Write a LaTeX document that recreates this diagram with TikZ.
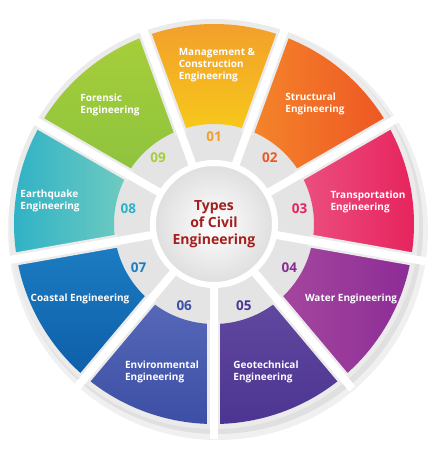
\documentclass[tikz,border=0pt]{standalone}
\usepackage{fontspec}
\setmainfont{Open Sans}
\usetikzlibrary{
    positioning, % posicionamento relativo
    shadings
}

% --- Cores dos setores ---
\definecolor{hubgray}{HTML}{E4E4E4}
\definecolor{rimgray}{HTML}{EBEBEB}
\definecolor{civred}{HTML}{A3201E}
\definecolor{mgmtA}{HTML}{F29E2C}\definecolor{mgmtB}{HTML}{F7C81A}
\definecolor{strcA}{HTML}{F4862A}\definecolor{strcB}{HTML}{EE5624}
\definecolor{trnsA}{HTML}{EC4F80}\definecolor{trnsB}{HTML}{E6225C}
\definecolor{watrA}{HTML}{A5479F}\definecolor{watrB}{HTML}{8C2C96}
\definecolor{geotA}{HTML}{61489F}\definecolor{geotB}{HTML}{4C3592}
\definecolor{envrA}{HTML}{5768B8}\definecolor{envrB}{HTML}{3C4FA4}
\definecolor{coasA}{HTML}{1C7DC2}\definecolor{coasB}{HTML}{0D5EA8}
\definecolor{eartA}{HTML}{2DB1C6}\definecolor{eartB}{HTML}{70CBC0}
\definecolor{foreA}{HTML}{A7CE3A}\definecolor{foreB}{HTML}{8DC33E}

\begin{document}
\begin{tikzpicture}[x=1pt, y=1pt]

    % --- Definição de Estilos ---
    \tikzset{
        % Rótulo branco de cada setor
        seg_label/.style={
            text=white,
            align=left,
            inner sep=0pt,
            font=\bfseries\fontsize{10}{12}\selectfont
        },
        % Número de cada setor
        seg_number/.style={
            inner sep=0pt,
            font=\bfseries\fontsize{13.5}{13.5}\selectfont
        },
        % Borda cinza e vão branco entre setores
        gap_edge/.style={draw=rimgray, line width=13pt},
        gap_line/.style={draw=white, line width=8pt}
    }

    \useasboundingbox (-214,-226) rectangle (218,224);

    % --- Sombra e disco base ---
    \fill[black!6] (4,-6) circle (210);
    \fill[black!12] (3,-4) circle (206);
    \fill[rimgray] (0,0) circle (205);
    \fill[hubgray] (0,0) circle (100);

    % --- Setores coloridos ---
    \shade[top color=mgmtA, bottom color=mgmtB]
        (70:100) arc[start angle=70, end angle=110, radius=100] -- (110:200) arc[start angle=110, end angle=70, radius=200] -- cycle;
    \shade[left color=strcA, right color=strcB]
        (30:100) arc[start angle=30, end angle=70, radius=100] -- (70:200) arc[start angle=70, end angle=30, radius=200] -- cycle;
    \shade[left color=trnsA, right color=trnsB]
        (-10:100) arc[start angle=-10, end angle=30, radius=100] -- (30:200) arc[start angle=30, end angle=-10, radius=200] -- cycle;
    \shade[left color=watrA, right color=watrB]
        (-50:100) arc[start angle=-50, end angle=-10, radius=100] -- (-10:200) arc[start angle=-10, end angle=-50, radius=200] -- cycle;
    \shade[top color=geotA, bottom color=geotB]
        (-90:100) arc[start angle=-90, end angle=-50, radius=100] -- (-50:200) arc[start angle=-50, end angle=-90, radius=200] -- cycle;
    \shade[top color=envrA, bottom color=envrB]
        (-130:100) arc[start angle=-130, end angle=-90, radius=100] -- (-90:200) arc[start angle=-90, end angle=-130, radius=200] -- cycle;
    \shade[top color=coasA, bottom color=coasB]
        (-170:100) arc[start angle=-170, end angle=-130, radius=100] -- (-130:200) arc[start angle=-130, end angle=-170, radius=200] -- cycle;
    \shade[left color=eartA, right color=eartB]
        (150:100) arc[start angle=150, end angle=190, radius=100] -- (190:200) arc[start angle=190, end angle=150, radius=200] -- cycle;
    \shade[top color=foreA, bottom color=foreB]
        (110:100) arc[start angle=110, end angle=150, radius=100] -- (150:200) arc[start angle=150, end angle=110, radius=200] -- cycle;

    % --- Vãos entre os setores ---
    \foreach \ang in {70,30,-10,-50,-90,-130,-170,150,110} {
        \draw[gap_edge] (\ang:96) -- (\ang:203);
        \draw[gap_line] (\ang:55) -- (\ang:215);
    }

    % --- Círculo central ---
    \node[circle, minimum size=122pt, inner sep=0pt,
          inner color=white, outer color=black!13,
          draw=white, line width=6pt,
          text=civred, align=center,
          font=\bfseries\fontsize{14}{17}\selectfont] (types) {Types\\of Civil\\Engineering};

    % --- Rótulos dos setores ---
    \node[seg_label] (management)     at (3,159)    {Management \&\\Construction\\Engineering};
    \node[seg_label] (structural)     at (101,120)  {Structural\\Engineering};
    \node[seg_label] (transportation) at (154,22)   {Transportation\\Engineering};
    \node[seg_label] (water)          at (137,-75)  {Water Engineering};
    \node[seg_label] (geotechnical)   at (52,-148)  {Geotechnical\\Engineering};
    \node[seg_label] (environmental)  at (-52,-148) {Environmental\\Engineering};
    \node[seg_label] (coastal)        at (-134,-75) {Coastal Engineering};
    \node[seg_label] (earthquake)     at (-164,23)  {Earthquake\\Engineering};
    \node[seg_label] (forensic)       at (-104,119) {Forensic\\Engineering};

    % --- Números ---
    \node[seg_number, text=mgmtA] (num01) at (90:87)   {01};
    \node[seg_number, text=strcB] (num02) at (50:87)   {02};
    \node[seg_number, text=trnsB] (num03) at (10:87)   {03};
    \node[seg_number, text=watrB] (num04) at (-30:87)  {04};
    \node[seg_number, text=geotB] (num05) at (-70:87)  {05};
    \node[seg_number, text=envrB] (num06) at (-110:87) {06};
    \node[seg_number, text=coasA] (num07) at (-150:87) {07};
    \node[seg_number, text=eartA] (num08) at (170:87)  {08};
    \node[seg_number, text=foreA] (num09) at (130:87)  {09};

\end{tikzpicture}
\end{document}
